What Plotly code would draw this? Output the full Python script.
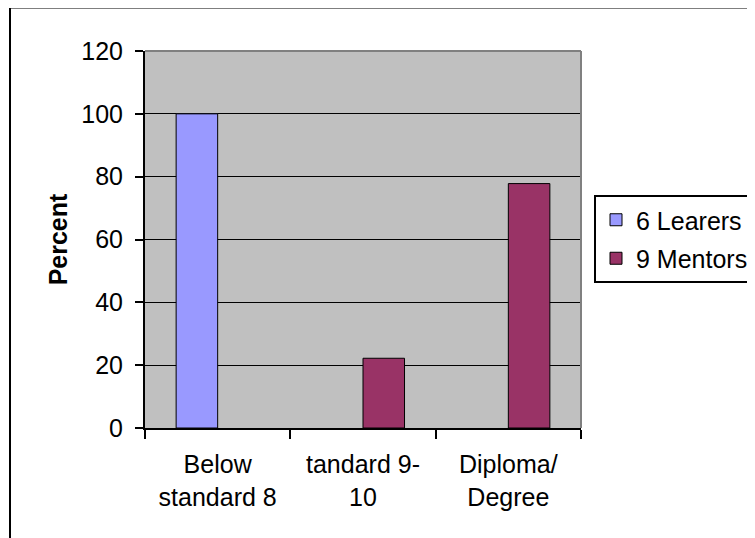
import plotly.graph_objects as go

categories = ["Below<br>standard 8", "tandard 9-<br>10", "Diploma/<br>Degree"]
learers = [100, None, None]
mentors = [None, 22.2, 77.8]
y_ticks = [0, 20, 40, 60, 80, 100, 120]

# the page body adds an 8px offset; work in screen pixels and convert
OFF = 8
W, H = 755 - OFF, 538 - OFF
SL, SR, ST, SB = 145, 581, 51, 428  # plot area in screen pixels
L, R, T, B = SL - OFF, SR - OFF, ST - OFF, SB - OFF
pw, ph = R - L, B - T

def px(sx):
    return (sx - SL) / pw

def py(sy):
    return (SB - sy) / ph

FONT = "Liberation Sans, Arial, sans-serif"

fig = go.Figure()
fig.add_trace(go.Bar(x=categories, y=learers, name="6 Learers", legendgroup="a",
                     marker=dict(color="#9999FF", line=dict(color="black", width=1))))
fig.add_trace(go.Bar(x=categories, y=mentors, name="9 Mentors", legendgroup="b",
                     marker=dict(color="#993366", line=dict(color="black", width=1))))

fig.update_layout(
    width=W, height=H,
    margin=dict(l=L, r=W - R, t=T, b=H - B, pad=0, autoexpand=False),
    paper_bgcolor="white", plot_bgcolor="#C0C0C0",
    font=dict(family=FONT, size=25, color="black"),
    barmode="group", bargap=1.5 / 3.5, bargroupgap=0,
    showlegend=True,
    legend=dict(x=px(594), y=py(195), xanchor="left", yanchor="top",
                bordercolor="black", borderwidth=2, bgcolor="white",
                traceorder="grouped", tracegroupgap=3, entrywidth=140,
                font=dict(family=FONT, size=25)),
    xaxis=dict(type="category", showgrid=False, showline=True, linecolor="black", linewidth=2,
               ticks="outside", ticklen=9, tickwidth=2, tickcolor="black", tickson="boundaries",
               ticklabelstandoff=13,
               tickfont=dict(family=FONT, size=25)),
    yaxis=dict(range=[0, 120], tickvals=y_ticks, showgrid=True, gridcolor="black", gridwidth=1,
               showline=True, linecolor="black", linewidth=2, zeroline=False,
               ticks="outside", ticklen=8, tickwidth=2, tickcolor="black",
               ticklabelstandoff=7,
               tickfont=dict(family=FONT, size=25),
               title=dict(text="<b>Percent</b>", font=dict(family=FONT, size=25), standoff=7)),
    shapes=[
        dict(type="line", xref="paper", yref="paper", x0=0, x1=1, y0=1, y1=1,
             line=dict(color="#808080", width=2), layer="above"),
        dict(type="line", xref="paper", yref="paper", x0=1, x1=1, y0=0, y1=1,
             line=dict(color="#808080", width=2), layer="above"),
        dict(type="rect", xref="paper", yref="paper", x0=px(10), x1=px(775), y0=py(555), y1=py(7.5),
             line=dict(color="black", width=2), fillcolor="rgba(0,0,0,0)", layer="above"),
    ],
)

fig.write_html("out.html")
